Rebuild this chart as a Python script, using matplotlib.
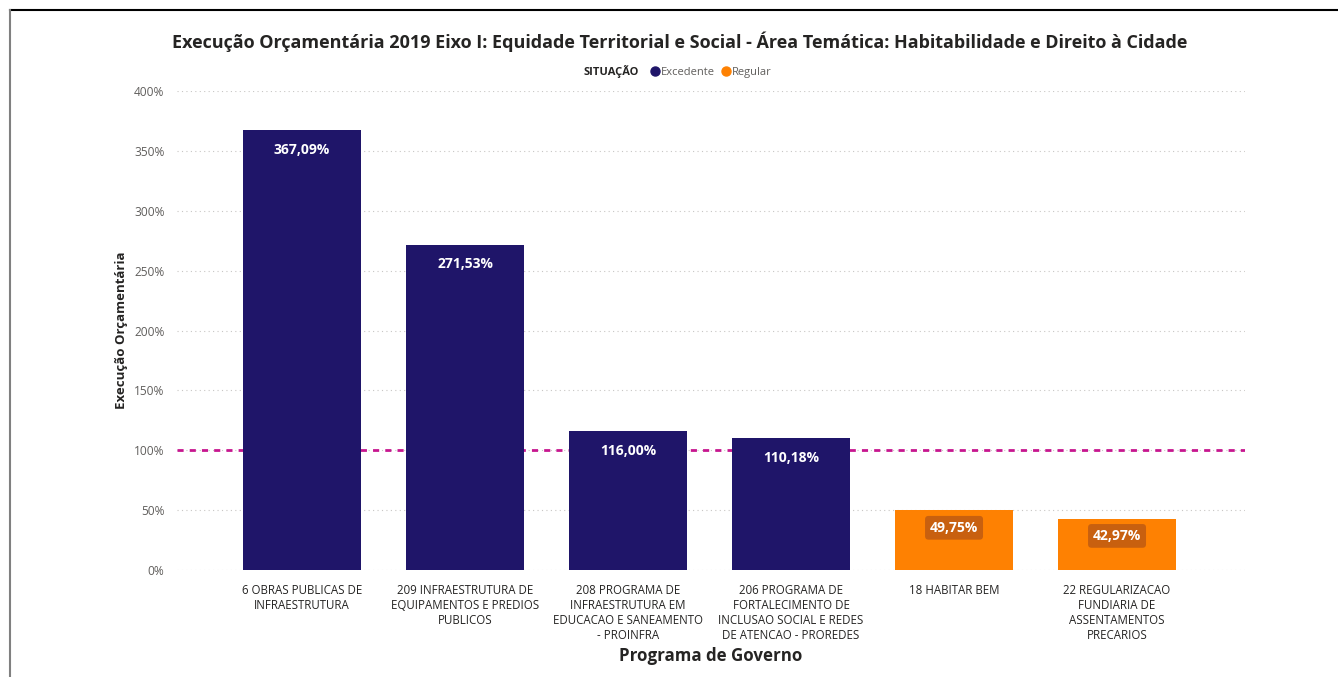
import matplotlib.pyplot as plt
from matplotlib.lines import Line2D
from matplotlib.ticker import FuncFormatter

plt.rcParams['font.family'] = ['Open Sans', 'DejaVu Sans']

# Data
programas = [
    '6 OBRAS PUBLICAS DE\nINFRAESTRUTURA',
    '209 INFRAESTRUTURA DE\nEQUIPAMENTOS E PREDIOS\nPUBLICOS',
    '208 PROGRAMA DE\nINFRAESTRUTURA EM\nEDUCACAO E SANEAMENTO\n- PROINFRA',
    '206 PROGRAMA DE\nFORTALECIMENTO DE\nINCLUSAO SOCIAL E REDES\nDE ATENCAO - PROREDES',
    '18 HABITAR BEM',
    '22 REGULARIZACAO\nFUNDIARIA DE\nASSENTAMENTOS\nPRECARIOS',
]
execucao = [367.09, 271.53, 116.00, 110.18, 49.75, 42.97]
situacao = ['Excedente', 'Excedente', 'Excedente', 'Excedente', 'Regular', 'Regular']
yticks = [0, 50, 100, 150, 200, 250, 300, 350, 400]

cores = {'Excedente': '#1f1569', 'Regular': '#fe8102'}
meta = 100

W, H = 1338, 677
fig = plt.figure(figsize=(W / 100, H / 100), dpi=100)
ax = fig.add_axes([177 / W, 1 - 570 / H, (1245 - 177) / W, (570 - 91) / H])

x = list(range(len(programas)))
ax.bar(x, execucao, width=0.724, color=[cores[s] for s in situacao], zorder=3)
ax.axhline(meta, color='#c7168f', linestyle=(0, (2.2, 2.2)), linewidth=2, zorder=2)

for xi, v, s in zip(x, execucao, situacao):
    txt = f'{v:.2f}%'.replace('.', ',')
    if s == 'Regular':
        ax.annotate(txt, (xi, v), xytext=(0, -12.5), textcoords='offset points',
                    ha='center', va='center', color='white', fontsize=10, fontweight='bold',
                    zorder=5,
                    bbox=dict(boxstyle='round,pad=0.35,rounding_size=0.25', fc='#c8600f', ec='none'))
    else:
        ax.annotate(txt, (xi, v), xytext=(0, -14), textcoords='offset points',
                    ha='center', va='center', color='white', fontsize=10, fontweight='bold',
                    zorder=5)

ax.set_xlim(-0.767, 5.785)
ax.set_ylim(0, 400)
ax.set_yticks(yticks)
ax.yaxis.set_major_formatter(FuncFormatter(lambda v, p: f'{v:.0f}%'))
ax.set_xticks(x)
ax.set_xticklabels(programas, fontsize=8.3, color='#252423', linespacing=1.22)
ax.tick_params(axis='y', labelsize=8.6, labelcolor='#605e5c', length=0, pad=9)
ax.tick_params(axis='x', length=0, pad=10)
ax.grid(axis='y', color='#c8c6c4', linestyle=(0, (1, 3)), linewidth=0.8, zorder=0)
for sp in ax.spines.values():
    sp.set_visible(False)

ax.set_xlabel('Programa de Governo', fontsize=12.2, fontweight='bold', color='#252423', labelpad=3)
ax.set_ylabel('Execução Orçamentária', fontsize=9.5, fontweight='bold', color='#252423', labelpad=4)

fig.text(0.508, 1 - 42 / H, 'Execução Orçamentária 2019 Eixo I: Equidade Territorial e Social - Área Temática: Habitabilidade e Direito à Cidade',
         ha='center', va='center', fontsize=12.95, fontweight='bold', color='#252423')

# legend (manual, inline title)
ly = 1 - 71 / H
lb = 1 - 75 / H
fig.text(583 / W, lb, 'SITUAÇÃO', ha='left', va='baseline', fontsize=8, fontweight='bold', color='#252423')
fig.add_artist(Line2D([655 / W], [ly], marker='o', markersize=6.5, color=cores['Excedente'], linestyle='none'))
fig.text(661 / W, lb, 'Excedente', ha='left', va='baseline', fontsize=8, color='#605e5c')
fig.add_artist(Line2D([726 / W], [ly], marker='o', markersize=6.5, color=cores['Regular'], linestyle='none'))
fig.text(732 / W, lb, 'Regular', ha='left', va='baseline', fontsize=8, color='#605e5c')

# frame lines
fig.add_artist(Line2D([10 / W, 1], [1 - 10 / H, 1 - 10 / H], color='black', linewidth=1.5))
fig.add_artist(Line2D([10 / W, 10 / W], [0, 1 - 10 / H], color='#808080', linewidth=1.5))

fig.savefig('out.png', dpi=100)
